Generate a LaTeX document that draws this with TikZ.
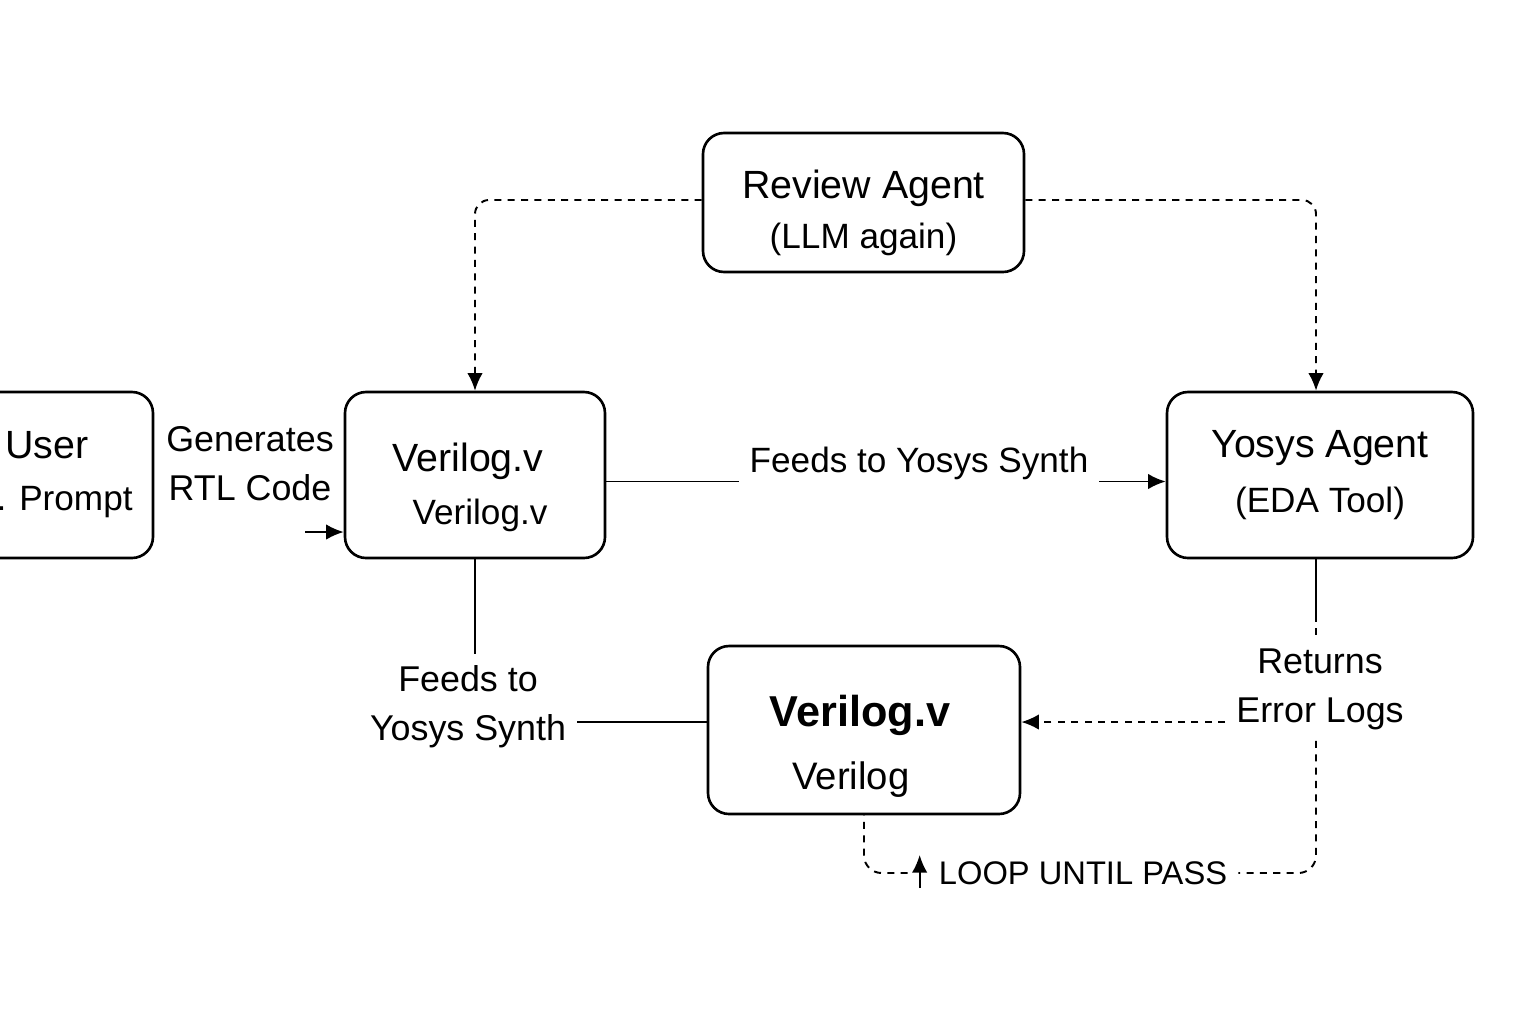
\documentclass[tikz,border=0pt]{standalone}
\usepackage{fontspec}
\setmainfont{Liberation Sans}
\usetikzlibrary{arrows.meta,positioning,calc}
\newcommand{\titlesize}{\fontsize{11.2}{14}\selectfont}
\newcommand{\subsize}{\fontsize{10}{14}\selectfont}

\begin{document}
\begin{tikzpicture}[
    box/.style={rectangle, draw, rounded corners=6pt, line width=0.75pt, align=center, inner sep=0pt, font=\subsize},
    lbl/.style={align=center, font=\fontsize{10.2}{14}\selectfont, inner sep=3pt},
    arrow/.style={-{Latex[length=5pt,width=4.4pt]}, line width=0.55pt},
    link/.style={line width=0.55pt},
    dashline/.style={dash pattern=on 2pt off 1.8pt}
]
    \useasboundingbox (0,0) rectangle (15.36,-10.24);
    \clip (0,0) rectangle (15.36,-10.24);

    % Review Agent (top)
    \node[box, minimum width=3.21cm, minimum height=1.39cm] (review) at (8.635,-2.025) {\rule{0pt}{14pt}{\titlesize Review Agent}\\ (LLM again)};

    % User (left, cut by the edge)
    \node[box, minimum width=2.13cm, minimum height=1.66cm] (user) at (0.465,-4.75) {};
    \node[font=\titlesize] (usertitle) at (0.47,-4.45) {User};
    \node[font=\subsize, anchor=east] (userprompt) at (1.45,-5.02) {. Prompt};

    % Verilog.v (middle)
    \node[box, minimum width=2.6cm, minimum height=1.66cm] (verilog) at (4.75,-4.75) {\rule{0pt}{15pt}{\titlesize Verilog.v}\hspace*{0.14cm}\\[1pt] \hspace*{0.1cm}Verilog.v};

    % Yosys Agent (right)
    \node[box, minimum width=3.06cm, minimum height=1.66cm] (yosys) at (13.20,-4.75) {{\titlesize Yosys Agent}\\[1.5pt] (EDA Tool)};

    % Refined Verilog (bottom)
    \node[box, minimum width=3.12cm, minimum height=1.68cm] (refined) at (8.64,-7.30) {\rule{0pt}{18pt}{\fontsize{12.3}{14}\selectfont\bfseries Verilog.v}\hspace*{0.08cm}\\[4pt] {\fontsize{10.9}{14}\selectfont Verilog}\hspace*{0.26cm}};

    % Labels
    \node[lbl] (gencode) at (2.50,-4.64) {Generates\\RTL Code};
    \node[lbl] (feedsdown) at (4.68,-7.07) {Feeds to\\Yosys Synth};
    \node[lbl] (returns) at (13.20,-6.89) {Returns\\Error Logs};
    \node[lbl, font=\fontsize{9.3}{12}\selectfont] (looplbl) at (10.83,-8.73) {LOOP UNTIL PASS};

    % Review feedback (dashed)
    \draw[arrow, dashline, rounded corners=4pt] ([yshift=0.025cm]review.west) -| (verilog.north);
    \draw[arrow, dashline, rounded corners=4pt] ([yshift=0.025cm]review.east) -| ([xshift=-0.04cm]yosys.north);

    % Generates RTL code
    \coordinate (genstart) at (3.05,-5.32);
    \draw[arrow] (genstart) -- (genstart -| verilog.west);

    % Feeds to Yosys
    \draw[arrow] ([yshift=-0.065cm]verilog.east) -- node[lbl, fill=white, pos=0.559, yshift=0.18cm, font=\fontsize{10}{14}\selectfont] (feedlbl) {Feeds to Yosys Synth} ([yshift=-0.065cm]yosys.west);
    \draw[link] (verilog.south) -- (verilog.south |- feedsdown.north);
    \draw[link] ([yshift=0.08cm]refined.west -| feedsdown.east) -- ([yshift=0.08cm]refined.west);

    % Error logs back
    \coordinate (retsplit) at (13.16,-6.15);
    \draw[link] (yosys.south -| retsplit) -- (retsplit);
    \draw[link, dashline] (retsplit) -- (retsplit |- returns.north);
    \draw[arrow, dashline] ([yshift=0.08cm]refined.east -| returns.west) -- ([yshift=0.08cm]refined.east);

    % Loop until pass
    \draw[link, dashline, rounded corners=5pt] (retsplit |- returns.south) -- (retsplit |- looplbl) -- (looplbl.east);
    \draw[link, dashline, rounded corners=5pt] ([xshift=-0.2cm]looplbl.west) -| (refined.south);
    \draw[arrow] ([xshift=-0.08cm,yshift=-0.15cm]looplbl.west) -- ++(0,0.33);
\end{tikzpicture}
\end{document}
